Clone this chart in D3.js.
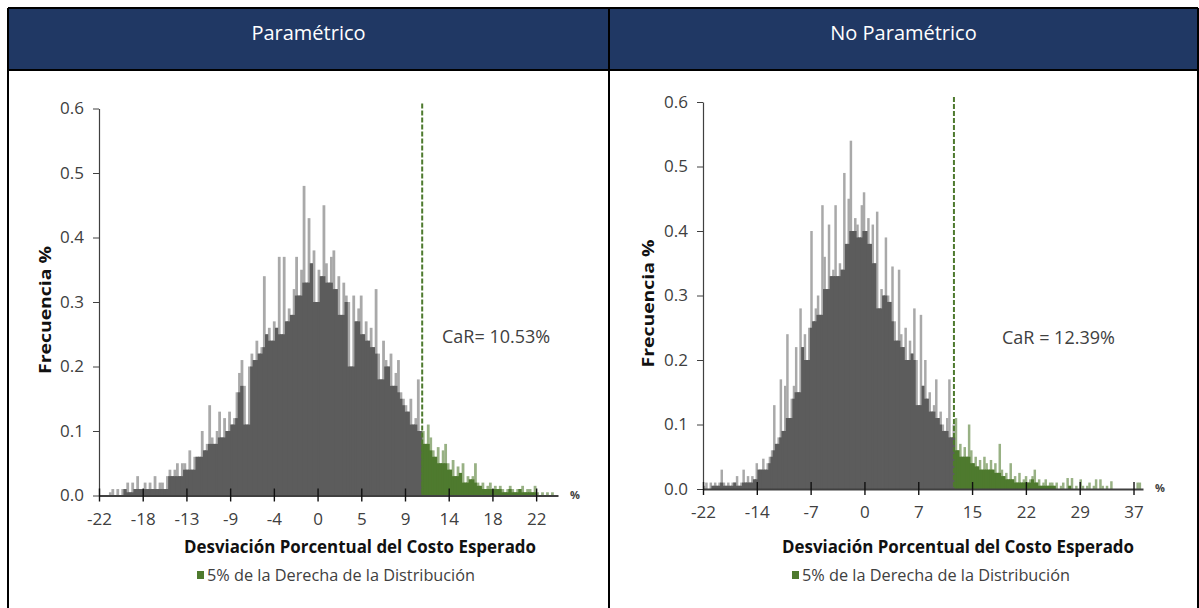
<!DOCTYPE html>
<html>
<head>
<meta charset="utf-8">
<script src="https://cdn.jsdelivr.net/npm/d3@7/dist/d3.min.js"></script>
<style>
  html, body { margin: 0; padding: 0; background: #fff; }
  svg { display: block; font-family: "Open Sans", "Noto Sans", sans-serif; }
</style>
</head>
<body>
<div id="chart"></div>
<script>
// ---- data ----
const panelTitles = ["Paramétrico", "No Paramétrico"];
const yTicks = [0, 0.1, 0.2, 0.3, 0.4, 0.5, 0.6];
const xAxisTitle = "Desviación Porcentual del Costo Esperado";
const yAxisTitle = "Frecuencia %";
const legendLabel = "5% de la Derecha de la Distribución";

// Paramétrico: bins of 0.25 starting at -22
const paramBinStart = -22;
const paramBinWidth = 0.25;
const paramFreq = [
  0, 0, 0, 0, 0.005, 0.01, 0, 0.01, 0, 0.01,
  0.01, 0.02, 0.005, 0.02, 0.01, 0.03, 0.01, 0.01, 0.02, 0.01,
  0.02, 0.01, 0.03, 0.01, 0.02, 0.02, 0.01, 0.03, 0.04, 0.03,
  0.04, 0.05, 0.03, 0.05, 0.05, 0.04, 0.07, 0.04, 0.06, 0.06,
  0.06, 0.1, 0.07, 0.08, 0.14, 0.09, 0.08, 0.1, 0.13, 0.09,
  0.12, 0.1, 0.13, 0.11, 0.12, 0.16, 0.19, 0.21, 0.17, 0.11,
  0.2, 0.22, 0.21, 0.24, 0.22, 0.23, 0.34, 0.25, 0.26, 0.24,
  0.27, 0.26, 0.37, 0.25, 0.37, 0.27, 0.29, 0.28, 0.32, 0.37,
  0.31, 0.35, 0.48, 0.33, 0.43, 0.36, 0.38, 0.3, 0.35, 0.34,
  0.45, 0.36, 0.33, 0.37, 0.38, 0.32, 0.34, 0.28, 0.33, 0.31,
  0.3, 0.2, 0.31, 0.27, 0.29, 0.31, 0.25, 0.27, 0.24, 0.26,
  0.23, 0.32, 0.22, 0.18, 0.24, 0.21, 0.2, 0.22, 0.17, 0.19,
  0.21, 0.16, 0.15, 0.14, 0.13, 0.15, 0.11, 0.12, 0.18, 0.1,
  0.1, 0.08, 0.11, 0.09, 0.07, 0.06, 0.075, 0.05, 0.07, 0.08,
  0.05, 0.04, 0.055, 0.03, 0.045, 0.035, 0.05, 0.02, 0.03, 0.025,
  0.03, 0.05, 0.02, 0.015, 0.02, 0.01, 0.015, 0.02, 0.01, 0.015,
  0.01, 0.015, 0.01, 0.005, 0.01, 0.015, 0.01, 0.005, 0.01, 0.01,
  0.015, 0.005, 0.01, 0.01, 0.005, 0.015, 0.005, 0, 0.005, 0,
  0.005, 0, 0.005, 0
];
const paramCaR = 10.53;
const paramTicks = [-22, -17.6, -13.2, -8.8, -4.4, 0, 4.4, 8.8, 13.2, 17.6, 22];
const paramTickLabels = ["-22", "-18", "-13", "-9", "-4", "0", "5", "9", "14", "18", "22"];

// No Paramétrico: bins of 0.3 starting at -22
const noParamBinStart = -22;
const noParamBinWidth = 0.3;
const noParamFreq = [
  0.005, 0.01, 0, 0.01, 0.005, 0.01, 0.005, 0.01, 0.03, 0.01,
  0.005, 0.01, 0.005, 0.01, 0.01, 0.02, 0.005, 0.01, 0.03, 0.01,
  0.02, 0.01, 0.02, 0.015, 0.04, 0.03, 0.03, 0.047, 0.03, 0.04,
  0.05, 0.06, 0.13, 0.07, 0.08, 0.17, 0.09, 0.16, 0.24, 0.11,
  0.14, 0.16, 0.22, 0.15, 0.28, 0.22, 0.24, 0.2, 0.25, 0.4,
  0.26, 0.28, 0.3, 0.27, 0.44, 0.36, 0.31, 0.41, 0.33, 0.34,
  0.44, 0.33, 0.35, 0.34, 0.49, 0.38, 0.45, 0.54, 0.4, 0.42,
  0.41, 0.39, 0.44, 0.46, 0.4, 0.42, 0.38, 0.41, 0.35, 0.43,
  0.28, 0.31, 0.3, 0.39, 0.3, 0.29, 0.345, 0.26, 0.23, 0.34,
  0.24, 0.22, 0.25, 0.2, 0.23, 0.21, 0.28, 0.2, 0.13, 0.27,
  0.16, 0.2, 0.14, 0.15, 0.12, 0.13, 0.17, 0.11, 0.12, 0.1,
  0.09, 0.11, 0.17, 0.08, 0.1, 0.11, 0.06, 0.07, 0.05, 0.065,
  0.05, 0.1, 0.06, 0.04, 0.05, 0.035, 0.045, 0.03, 0.05, 0.04,
  0.03, 0.045, 0.03, 0.04, 0.025, 0.07, 0.03, 0.02, 0.025, 0.015,
  0.04, 0.015, 0.02, 0.01, 0.025, 0.01, 0.015, 0.02, 0.01, 0.015,
  0.02, 0.03, 0.01, 0.015, 0.005, 0.01, 0.015, 0.005, 0.01, 0.01,
  0.005, 0.01, 0, 0.005, 0.01, 0, 0.017, 0.005, 0.017, 0,
  0.005, 0, 0.015, 0.005, 0, 0.005, 0.01, 0, 0.005, 0.015,
  0, 0.015, 0.005, 0, 0.005, 0, 0.012, 0, 0, 0,
  0, 0, 0, 0, 0, 0, 0, 0, 0.01, 0.01
];
const noParamCaR = 12.39;
const noParamTicks = [-22, -14.625, -7.25, 0.125, 7.5, 14.875, 22.25, 29.625, 37];
const noParamTickLabels = ["-22", "-14", "-7", "0", "7", "15", "22", "29", "37"];

// ---- layout ----
const width = 1199, height = 608;
const colors = {
  header: "#203864",
  bar: "#5c5c5c",
  barLight: "#a9a9a9",
  tail: "#4e7a2e",
  tailLight: "#98b184",
  text: "#404040",
  axis: "#404040"
};

const panels = [
  {
    title: panelTitles[0], cellX: [8, 609],
    binStart: paramBinStart, binWidth: paramBinWidth, freq: paramFreq, car: paramCaR,
    ticks: paramTicks, tickLabels: paramTickLabels,
    xDomain: [-22, 24.2], left: 99, right: 558, top: 108.5, bottom: 495.5,
    carLabel: "CaR= 10.53%", carLabelX: 442, carLabelY: 337,
    yLabelX: 45, titleCenter: 360, legendX: 197
  },
  {
    title: panelTitles[1], cellX: [609, 1198],
    binStart: noParamBinStart, binWidth: noParamBinWidth, freq: noParamFreq, car: noParamCaR,
    ticks: noParamTicks, tickLabels: noParamTickLabels,
    xDomain: [-22, 38.3], left: 703, right: 1143, top: 102, bottom: 489,
    carLabel: "CaR = 12.39%", carLabelX: 1002, carLabelY: 338,
    yLabelX: 648, titleCenter: 958, legendX: 792
  }
];

const svg = d3.select("#chart")
  .append("svg")
  .attr("width", width)
  .attr("height", height);

// table header + borders
svg.append("rect")
  .attr("x", 8).attr("y", 8)
  .attr("width", 1190).attr("height", 62)
  .attr("fill", colors.header);

const borders = svg.append("g")
  .attr("stroke", "#000")
  .attr("stroke-width", 2);
borders.append("line").attr("x1", 8).attr("x2", 1198).attr("y1", 8).attr("y2", 8);
borders.append("line").attr("x1", 8).attr("x2", 1198).attr("y1", 70).attr("y2", 70);
borders.append("line").attr("x1", 8).attr("x2", 8).attr("y1", 8).attr("y2", height);
borders.append("line").attr("x1", 609).attr("x2", 609).attr("y1", 8).attr("y2", height);
borders.append("line").attr("x1", 1198).attr("x2", 1198).attr("y1", 8).attr("y2", height);

panels.forEach((p) => drawPanel(p));

function drawPanel(p) {
  // header title
  svg.append("text")
    .attr("x", (p.cellX[0] + p.cellX[1]) / 2)
    .attr("y", 40)
    .attr("text-anchor", "middle")
    .style("font-size", "20px")
    .style("fill", "#fff")
    .text(p.title);

  const x = d3.scaleLinear().domain(p.xDomain).range([p.left, p.right]);
  const y = d3.scaleLinear().domain([0, 0.6]).range([p.bottom, p.top]);

  // each bin: the part not backed by its neighbours shows lighter (thin spike look)
  const bins = p.freq.map((v, i) => {
    const x0 = p.binStart + i * p.binWidth;
    const prev = i > 0 ? p.freq[i - 1] : 0;
    const next = i < p.freq.length - 1 ? p.freq[i + 1] : 0;
    return {
      x0: x0,
      x1: x0 + p.binWidth,
      v: v,
      base: Math.min(prev, v, next),
      tail: x0 + p.binWidth / 2 > p.car
    };
  }).filter((d) => d.v > 0);

  const g = svg.append("g");

  g.selectAll(".spike")
    .data(bins)
    .enter()
    .append("rect")
    .attr("x", (d) => x(d.x0))
    .attr("width", (d) => x(d.x1) - x(d.x0) + 0.3)
    .attr("y", (d) => y(d.v))
    .attr("height", (d) => y(0) - y(d.v))
    .attr("fill", (d) => (d.tail ? colors.tailLight : colors.barLight));

  // dark body, overlapped a bit so no seams show between bins
  g.selectAll(".base")
    .data(bins.filter((d) => d.base > 0))
    .enter()
    .append("rect")
    .attr("x", (d) => x(d.x0) - 0.4)
    .attr("width", (d) => x(d.x1) - x(d.x0) + 0.8)
    .attr("y", (d) => y(d.base))
    .attr("height", (d) => y(0) - y(d.base))
    .attr("fill", (d) => (d.tail ? colors.tail : colors.bar));

  // CaR dashed line
  svg.append("line")
    .attr("x1", x(p.car)).attr("x2", x(p.car))
    .attr("y1", p.top - 5).attr("y2", y(0))
    .attr("stroke", colors.tail)
    .attr("stroke-width", 2)
    .attr("stroke-dasharray", "5,2");

  svg.append("text")
    .attr("x", p.carLabelX)
    .attr("y", p.carLabelY)
    .attr("dy", "0.35em")
    .style("font-size", "18px")
    .style("fill", colors.text)
    .text(p.carLabel);

  // y axis
  const yAxis = d3.axisLeft(y)
    .tickValues(yTicks)
    .tickFormat(d3.format(".1f"))
    .tickSize(6)
    .tickSizeOuter(0)
    .tickPadding(9);

  const yg = svg.append("g")
    .attr("transform", `translate(${p.left},0)`)
    .call(yAxis);
  yg.select(".domain").attr("stroke", colors.axis).attr("stroke-width", 1.2);
  yg.selectAll(".tick line").attr("stroke", colors.axis);
  yg.selectAll("text")
    .style("font-size", "17px")
    .style("font-family", "'Open Sans', sans-serif")
    .style("fill", colors.text);

  // x axis, ticks crossing the line
  const xAxis = d3.axisBottom(x)
    .tickValues(p.ticks)
    .tickFormat((d, i) => p.tickLabels[i])
    .tickSize(6)
    .tickSizeOuter(0)
    .tickPadding(11);

  const xg = svg.append("g")
    .attr("transform", `translate(0,${y(0)})`)
    .call(xAxis);
  xg.select(".domain").attr("stroke", colors.axis).attr("stroke-width", 2);
  xg.selectAll(".tick line").attr("y1", -7).attr("stroke", "#111").attr("stroke-width", 1.4);
  xg.selectAll("text")
    .style("font-size", "17px")
    .style("font-family", "'Open Sans', sans-serif")
    .style("fill", colors.text);

  svg.append("text")
    .attr("x", p.right + 17)
    .attr("y", y(0) + 3)
    .attr("text-anchor", "middle")
    .style("font-size", "11px")
    .style("font-weight", "bold")
    .style("fill", colors.text)
    .text("%");

  // y axis title
  svg.append("text")
    .attr("transform", `translate(${p.yLabelX},${(p.top + p.bottom) / 2 + 8}) rotate(-90)`)
    .attr("text-anchor", "middle")
    .attr("dy", "0.35em")
    .attr("textLength", 128)
    .attr("lengthAdjust", "spacingAndGlyphs")
    .style("font-size", "16px")
    .style("font-weight", "bold")
    .style("fill", "#111")
    .text(yAxisTitle);

  // x axis title
  svg.append("text")
    .attr("x", p.titleCenter)
    .attr("y", 547)
    .attr("dy", "0.35em")
    .attr("text-anchor", "middle")
    .attr("textLength", 352)
    .attr("lengthAdjust", "spacingAndGlyphs")
    .style("font-size", "17px")
    .style("font-weight", "bold")
    .style("fill", "#111")
    .text(xAxisTitle);

  // legend
  svg.append("rect")
    .attr("x", p.legendX)
    .attr("y", 571)
    .attr("width", 7)
    .attr("height", 8)
    .attr("fill", colors.tail);

  svg.append("text")
    .attr("x", p.legendX + 10)
    .attr("y", 575)
    .attr("dy", "0.35em")
    .attr("textLength", 268)
    .attr("lengthAdjust", "spacingAndGlyphs")
    .style("font-size", "16px")
    .style("fill", colors.text)
    .text(legendLabel);
}
</script>
</body>
</html>
